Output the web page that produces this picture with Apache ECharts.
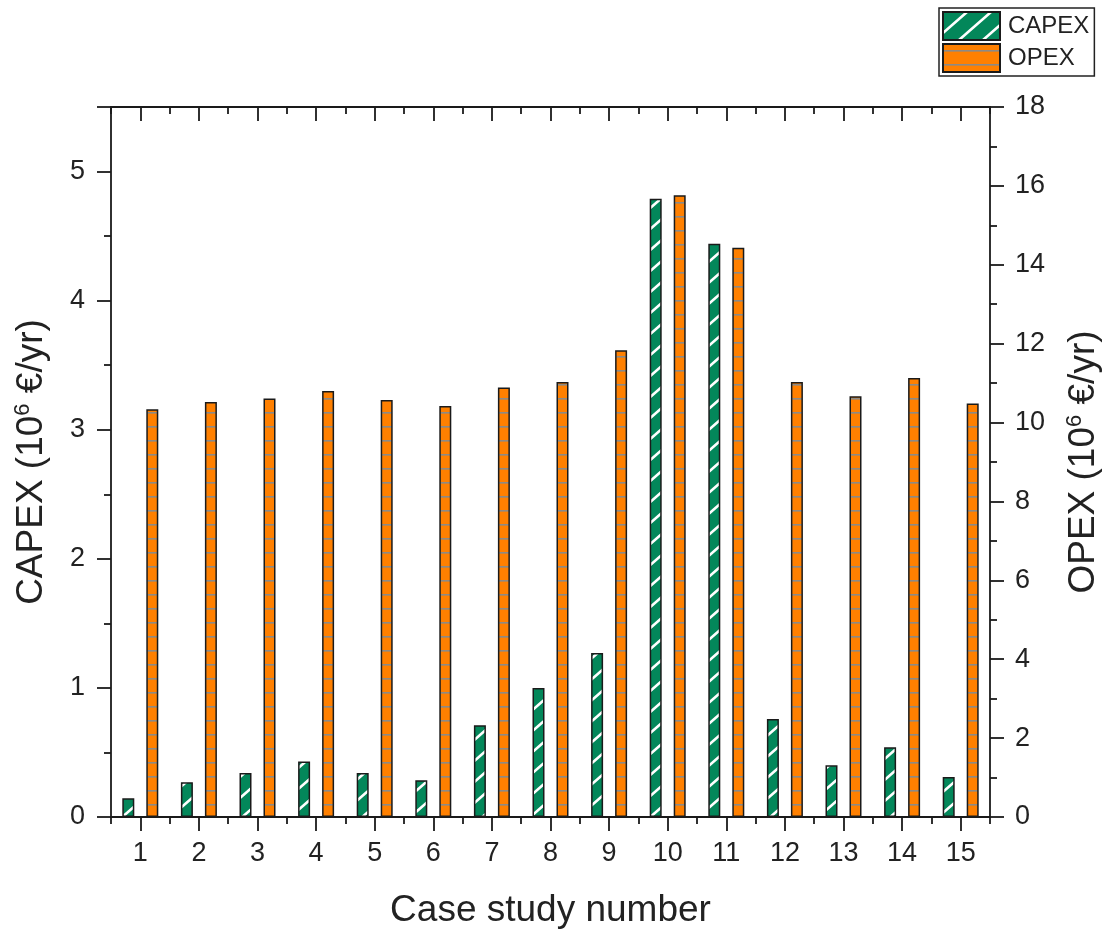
<!DOCTYPE html>
<html><head><meta charset="utf-8">
<script src="https://cdn.jsdelivr.net/npm/echarts@6/dist/echarts.min.js"></script>
<style>html,body{margin:0;padding:0;background:#fff}#c{width:1108px;height:936px}</style>
</head><body><div id="c"></div>
<script>
const categories = ['1','2','3','4','5','6','7','8','9','10','11','12','13','14','15'];
const capex = [0.145, 0.27, 0.34, 0.43, 0.34, 0.285, 0.71, 1.00, 1.27, 4.79, 4.44, 0.76, 0.40, 0.54, 0.31];
const opex  = [10.34, 10.52, 10.61, 10.80, 10.57, 10.42, 10.89, 11.03, 11.83, 15.76, 14.43, 11.03, 10.67, 11.13, 10.48];
const seriesNames = ['CAPEX', 'OPEX'];
const xTitle = 'Case study number';
const yLeftTitle = 'CAPEX (10{sup|6} €/yr)';
const yRightTitle = 'OPEX (10{sup|6} €/yr)';

const FONT = '"Liberation Sans", Arial, sans-serif';
const INK = '#1a1a1a';

function makeCapexPattern() {
  const w = 24, h = 21;
  const c = document.createElement('canvas');
  c.width = w; c.height = h;
  const g = c.getContext('2d');
  g.fillStyle = '#03875a';
  g.fillRect(0, 0, w, h);
  g.strokeStyle = '#ffffff';
  g.lineWidth = 2.6;
  g.beginPath();
  g.moveTo(-w, 2 * h); g.lineTo(2 * w, -h);
  g.moveTo(-w, 3 * h); g.lineTo(2 * w, 0);
  g.moveTo(-w, h); g.lineTo(2 * w, -2 * h);
  g.stroke();
  return c;
}
function makeOpexPattern() {
  const w = 8, h = 14;
  const c = document.createElement('canvas');
  c.width = w; c.height = h;
  const g = c.getContext('2d');
  g.fillStyle = '#ff8000';
  g.fillRect(0, 0, w, h);
  g.fillStyle = '#8c8a86';
  g.fillRect(0, 6, w, 1.6);
  return c;
}

const chart = echarts.init(document.getElementById('c'), null, {renderer: 'canvas'});

const tickStyle = {color: INK, width: 1.8};
const labelStyle = {fontSize: 27, color: '#222', fontFamily: FONT};
const nameStyle = {
  fontSize: 37, color: '#222', fontFamily: FONT,
  rich: {sup: {fontSize: 22, fontFamily: FONT, color: '#222', padding: [0, 0, 17, 0]}}
};

chart.setOption({
  animation: false,
  backgroundColor: '#ffffff',
  textStyle: {fontFamily: FONT},
  grid: {left: 111, right: 118, top: 107, bottom: 119, containLabel: false, outerBoundsMode: 'none'},
  legend: {
    data: seriesNames,
    orient: 'vertical',
    left: 939, top: 8,
    itemWidth: 57, itemHeight: 28, itemGap: 2,
    padding: [3, 5, 3, 3],
    borderColor: '#222', borderWidth: 1.5,
    icon: 'rect',
    textStyle: {fontSize: 24, color: '#222', fontFamily: FONT, padding: [0, 0, 0, 3]}
  },
  xAxis: [
    {
      type: 'category', data: categories, position: 'bottom', boundaryGap: true,
      axisLine: {show: true, lineStyle: {color: INK, width: 1.8}},
      axisTick: {show: true, alignWithLabel: false, interval: 0, length: 7, lineStyle: tickStyle},
      axisLabel: Object.assign({interval: 0, margin: 23}, labelStyle),
      splitLine: {show: false},
      name: xTitle, nameLocation: 'middle', nameGap: 75, nameTextStyle: nameStyle
    },
    {
      type: 'category', data: categories, position: 'bottom', boundaryGap: true,
      axisLine: {show: false},
      axisTick: {show: true, alignWithLabel: true, interval: 0, length: 14, lineStyle: tickStyle},
      axisLabel: {show: false}, splitLine: {show: false}
    },
    {
      type: 'category', data: categories, position: 'top', boundaryGap: true,
      axisLine: {show: true, lineStyle: {color: INK, width: 1.8}},
      axisTick: {show: true, inside: true, alignWithLabel: false, interval: 0, length: 7, lineStyle: tickStyle},
      axisLabel: {show: false}, splitLine: {show: false}
    },
    {
      type: 'category', data: categories, position: 'top', boundaryGap: true,
      axisLine: {show: false},
      axisTick: {show: true, inside: true, alignWithLabel: true, interval: 0, length: 14, lineStyle: tickStyle},
      axisLabel: {show: false}, splitLine: {show: false}
    }
  ],
  yAxis: [
    {
      type: 'value', position: 'left', min: 0, max: 5.5, interval: 1,
      axisLine: {show: true, lineStyle: {color: INK, width: 1.8}},
      axisTick: {show: true, length: 14, lineStyle: tickStyle},
      minorTick: {show: true, splitNumber: 2, length: 7, lineStyle: tickStyle},
      axisLabel: Object.assign({margin: 26, showMaxLabel: false}, labelStyle),
      splitLine: {show: false},
      name: yLeftTitle, nameLocation: 'middle', nameGap: 60, nameTextStyle: nameStyle
    },
    {
      type: 'value', position: 'right', min: 0, max: 18, interval: 2,
      axisLine: {show: true, lineStyle: {color: INK, width: 1.8}},
      axisTick: {show: true, length: 14, lineStyle: tickStyle},
      minorTick: {show: true, splitNumber: 2, length: 7, lineStyle: tickStyle},
      axisLabel: Object.assign({margin: 25}, labelStyle),
      splitLine: {show: false},
      name: yRightTitle, nameLocation: 'middle', nameGap: 74, nameRotate: 90, nameTextStyle: nameStyle
    }
  ],
  series: [
    {
      name: seriesNames[0], type: 'bar', xAxisIndex: 0, yAxisIndex: 0,
      data: capex, barWidth: 12, barGap: '100%',
      itemStyle: {color: {image: makeCapexPattern(), repeat: 'repeat'}, borderColor: INK, borderWidth: 1.5}
    },
    {
      name: seriesNames[1], type: 'bar', xAxisIndex: 0, yAxisIndex: 1,
      data: opex, barWidth: 12, barGap: '100%',
      itemStyle: {color: {image: makeOpexPattern(), repeat: 'repeat'}, borderColor: INK, borderWidth: 1.5}
    }
  ]
});
</script>
</body></html>
